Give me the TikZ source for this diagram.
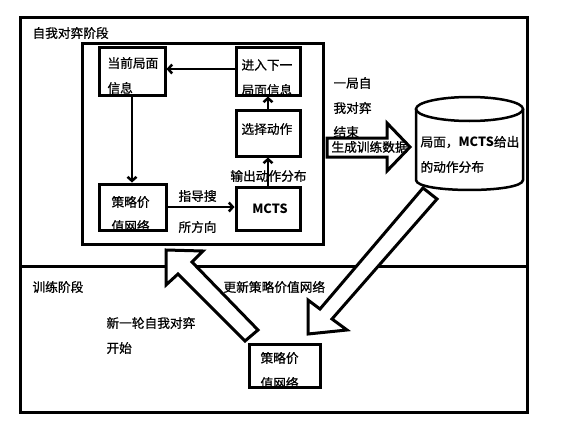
\documentclass[tikz,border=0pt]{standalone}
\usepackage{fontspec}
\setmainfont{Noto Sans CJK SC}[UprightFeatures={FakeBold=0.8}]
\usetikzlibrary{arrows.meta}
\begin{document}
\begin{tikzpicture}[x=1pt,y=-1pt,line width=3pt,
  txt/.style={anchor=west,inner sep=0pt,font=\fontsize{12.7}{14}\selectfont},
  ctxt/.style={inner sep=0pt,font=\fontsize{12.7}{14}\selectfont},
  box/.style={draw,line width=3pt,inner sep=0pt},
  conn/.style={line width=2.5pt,-{Straight Barb[length=4pt,width=9pt]}},
  hollow/.style={draw,line width=3pt,fill=white,line join=miter}]
\useasboundingbox (0,0) rectangle (574,426);
% outer frame and divider
\draw (20,17) rectangle (527,412);
\draw (20,266) -- (527,266);
% inner self-play box
\node[box,minimum width=241pt,minimum height=201pt] (inner) at (202.5,143.5) {};
% texts inside boxes (drawn before boxes so borders overlap them)
\node[txt] (t1) at (31,33) {自我对弈阶段};
\node[txt] (c1) at (106,63) {当前局面};
\node[txt] (c2) at (106,88) {信息};
\node[txt] (n1) at (240,65) {进入下一};
\node[txt] (n2) at (240,90) {局面信息};
\node[txt] (s1) at (240,129) {选择动作};
\node[txt] (p1) at (110,202) {策略价};
\node[txt] (p2) at (110,226) {值网络};
\node[ctxt,font=\fontsize{12.7}{14}\selectfont\bfseries] (m1) at (270,209) {MCTS};
\node[txt] (q1) at (259,358) {策略价};
\node[txt] (q2) at (259,383) {值网络};
% boxes
\node[box,minimum width=66pt,minimum height=48pt] (cur) at (132,71) {};
\node[box,minimum width=64pt,minimum height=48pt] (next) at (268,71) {};
\node[box,minimum width=64pt,minimum height=46pt] (sel) at (268,133) {};
\node[box,minimum width=67pt,minimum height=46pt] (pvn) at (132.5,207) {};
\node[box,minimum width=64pt,minimum height=43pt] (mcts) at (268,208.5) {};
\node[box,minimum width=71pt,minimum height=43pt] (pvn2) at (284.5,365.5) {};
% connectors
\draw[conn] (cur.south) -- (cur.south |- pvn.north);
\draw[conn] ([yshift=2pt]next.west) -- ([yshift=2pt]cur.east);
\draw[conn] (pvn.east) -- (pvn.east -| mcts.west);
\draw[conn] (mcts.north) -- (sel.south);
\draw[conn] (sel.north) -- (next.south);
\node[ctxt] (o1) at (268.5,176) {输出动作分布};
\node[txt] (g1) at (177,196) {指导搜};
\node[txt] (g2) at (177,227) {所方向};
% cylinder (training data)
\draw[line width=2.5pt] (416,109) -- (416,180) .. controls (416,193.3) and (523,193.3) .. (523,180) -- (523,109);
\draw[line width=2.5pt] (469.5,109) ellipse [x radius=53.5pt, y radius=12pt];
\node[txt] (d1) at (419,142) {局面，\textbf{MCTS}给出};
\node[txt] (d2) at (419,167) {的动作分布};
% hollow arrows
\draw[hollow] (327,138) -- (387,138) -- (387,123) -- (410,147) -- (387,171) -- (387,157) -- (327,157) -- cycle;
\draw[hollow] (308,334) -- (308,300) -- (320,309) -- (423,188) -- (437,199) -- (332,319) -- (347,330) -- cycle;
\draw[hollow] (166,250) -- (203,251) -- (192,262) -- (258,330) -- (245,341) -- (178,274) -- (166,285) -- cycle;
% free labels
\node[txt] (e1) at (332,83) {一局自};
\node[txt] (e2) at (332,108) {我对弈};
\node[txt] (e3) at (332,132) {结束};
\node[txt] (e4) at (330,147) {生成训练数据};
\node[txt] (t2) at (31,287) {训练阶段};
\node[txt] (u1) at (222,287) {更新策略价值网络};
\node[txt] (r1) at (105,323) {新一轮自我对弈};
\node[txt] (r2) at (105,348) {开始};
\end{tikzpicture}
\end{document}
